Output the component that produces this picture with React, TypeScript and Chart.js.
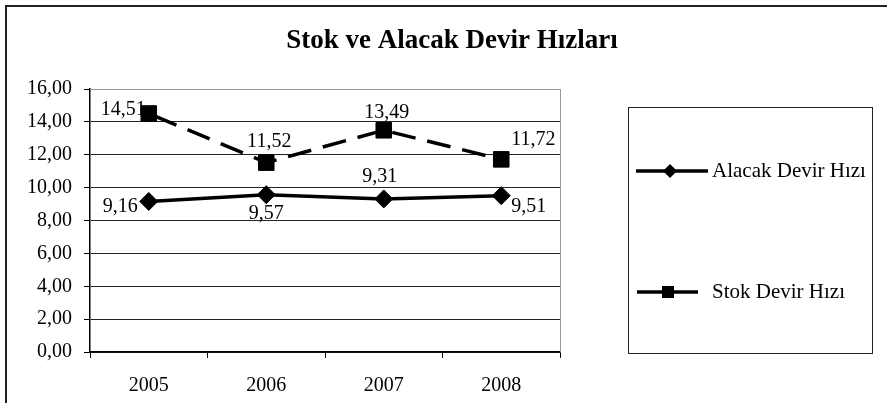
import React, { useEffect, useRef } from 'react';
import { Chart, registerables } from 'chart.js';
Chart.register(...registerables);

const TITLE = 'Stok ve Alacak Devir Hızları';
const YEARS = ['2005', '2006', '2007', '2008'];
const ALACAK = [9.16, 9.57, 9.31, 9.51];
const STOK = [14.51, 11.52, 13.49, 11.72];
const SERIES_NAMES = ['Alacak Devir Hızı', 'Stok Devir Hızı'];
const Y_MIN = 0;
const Y_MAX = 16;
const Y_STEP = 2;

const FONT = "'Liberation Serif', 'Times New Roman', serif";
const fmt = (v: number) => v.toFixed(2).replace('.', ',');

// data label placement per series/point: [dx, dy, align]
const LABEL_POS: [number, number, CanvasTextAlign][][] = [
  [[-11, 5, 'right'], [0, 19, 'center'], [-4, -22, 'center'], [10, 11, 'left']],
  [[-3, -4, 'right'], [3, -21, 'center'], [3, -18, 'center'], [10, -20, 'left']],
];

const framePlugin = {
  id: 'frame',
  beforeDraw(chart: any) {
    const ctx = chart.ctx;
    ctx.save();
    ctx.fillStyle = '#fff';
    ctx.fillRect(0, 0, chart.width, chart.height);
    ctx.strokeStyle = '#222';
    ctx.lineWidth = 2;
    ctx.strokeRect(6, 6, 1000, 1000);
    ctx.fillStyle = '#000';
    ctx.font = `bold 27px ${FONT}`;
    ctx.textAlign = 'center';
    ctx.textBaseline = 'middle';
    ctx.fillText(TITLE, 452, 41);
    ctx.restore();
  },
  afterDraw(chart: any) {
    const ctx = chart.ctx;
    const a = chart.chartArea;
    ctx.save();
    ctx.strokeStyle = '#999';
    ctx.lineWidth = 1;
    ctx.beginPath();
    ctx.moveTo(a.right + 0.5, a.top);
    ctx.lineTo(a.right + 0.5, a.bottom);
    ctx.stroke();
    ctx.strokeStyle = '#222';
    ctx.lineWidth = 1;
    ctx.strokeRect(628.5, 107.5, 244, 246);
    const entries = [
      { y: 171, x0: 636, x1: 708, mx: 670, style: 'diamond' },
      { y: 292, x0: 637, x1: 698, mx: 668, style: 'square' },
    ];
    entries.forEach((e, i) => {
      ctx.strokeStyle = '#000';
      ctx.fillStyle = '#000';
      ctx.lineWidth = 3.5;
      ctx.setLineDash([]);
      ctx.beginPath();
      ctx.moveTo(e.x0, e.y);
      ctx.lineTo(e.x1, e.y);
      ctx.stroke();
      ctx.beginPath();
      if (e.style === 'diamond') {
        const r = 7;
        ctx.moveTo(e.mx - r, e.y);
        ctx.lineTo(e.mx, e.y - r);
        ctx.lineTo(e.mx + r, e.y);
        ctx.lineTo(e.mx, e.y + r);
        ctx.closePath();
      } else {
        ctx.rect(e.mx - 6, e.y - 6, 12, 12);
      }
      ctx.fill();
      ctx.font = `21px ${FONT}`;
      ctx.textAlign = 'left';
      ctx.textBaseline = 'middle';
      ctx.fillText(chart.data.datasets[i].label, 712, e.y);
    });
    ctx.restore();
  },
  beforeDatasetsDraw(chart: any) {
    const ctx = chart.ctx;
    ctx.save();
    ctx.fillStyle = '#000';
    ctx.font = `20px ${FONT}`;
    ctx.textBaseline = 'middle';
    chart.data.datasets.forEach((ds: any, di: number) => {
      const meta = chart.getDatasetMeta(di);
      meta.data.forEach((pt: any, i: number) => {
        const [dx, dy, align] = LABEL_POS[di][i];
        ctx.textAlign = align;
        ctx.fillText(fmt(ds.data[i]), pt.x + dx, pt.y + dy);
      });
    });
    ctx.restore();
  },
};

export default function App() {
  const ref = useRef<HTMLCanvasElement | null>(null);
  useEffect(() => {
    if (!ref.current) return;
    const chart = new Chart(ref.current, {
      type: 'line',
      data: {
        labels: YEARS,
        datasets: [
          {
            label: SERIES_NAMES[0],
            data: ALACAK,
            borderColor: '#000',
            backgroundColor: '#000',
            borderWidth: 3.5,
            pointStyle: 'rectRot',
            pointRadius: 9,
            pointBorderWidth: 1,
            pointBackgroundColor: '#000',
            pointBorderColor: '#000',
            tension: 0,
          },
          {
            label: SERIES_NAMES[1],
            data: STOK,
            borderColor: '#000',
            backgroundColor: '#000',
            borderWidth: 3.5,
            borderDash: [24, 12],
            borderDashOffset: -6,
            pointStyle: 'rect',
            pointRadius: 11,
            pointBorderWidth: 1,
            pointBackgroundColor: '#000',
            pointBorderColor: '#000',
            tension: 0,
          },
        ],
      },
      options: {
        responsive: false,
        animation: false,
        devicePixelRatio: 1,
        layout: { padding: { left: 0, top: 89, right: 327, bottom: 0 } },
        plugins: {
          legend: { display: false },
          title: { display: false },
          tooltip: { enabled: false },
        },
        scales: {
          x: {
            type: 'category',
            offset: true,
            grid: {
              offset: true,
              drawOnChartArea: false,
              drawTicks: true,
              tickLength: 6,
              tickColor: '#000',
              tickWidth: 1,
            },
            border: { display: true, color: '#000', width: 1.5 },
            ticks: { color: '#000', font: { family: FONT, size: 20 }, padding: 16, maxRotation: 0 },
            afterFit: (s: any) => { s.height = 51; },
          },
          y: {
            min: Y_MIN,
            max: Y_MAX,
            ticks: {
              stepSize: Y_STEP,
              color: '#000',
              font: { family: FONT, size: 20 },
              padding: 12,
              callback: (v: any) => fmt(Number(v)),
            },
            grid: {
              color: (c: any) => (c.tick && c.tick.value === Y_MAX ? '#999' : '#222'),
              lineWidth: 1,
              drawTicks: true,
              tickLength: 6,
              tickColor: '#000',
            },
            border: { display: true, color: '#000', width: 1.5 },
            afterFit: (s: any) => { s.width = 90; },
          },
        },
      },
      plugins: [framePlugin],
    } as any);
    return () => chart.destroy();
  }, []);
  return (
    <div style={{ position: 'absolute', left: 0, top: 0, width: 887, height: 403 }}>
      <canvas ref={ref} width={887} height={403} />
    </div>
  );
}
